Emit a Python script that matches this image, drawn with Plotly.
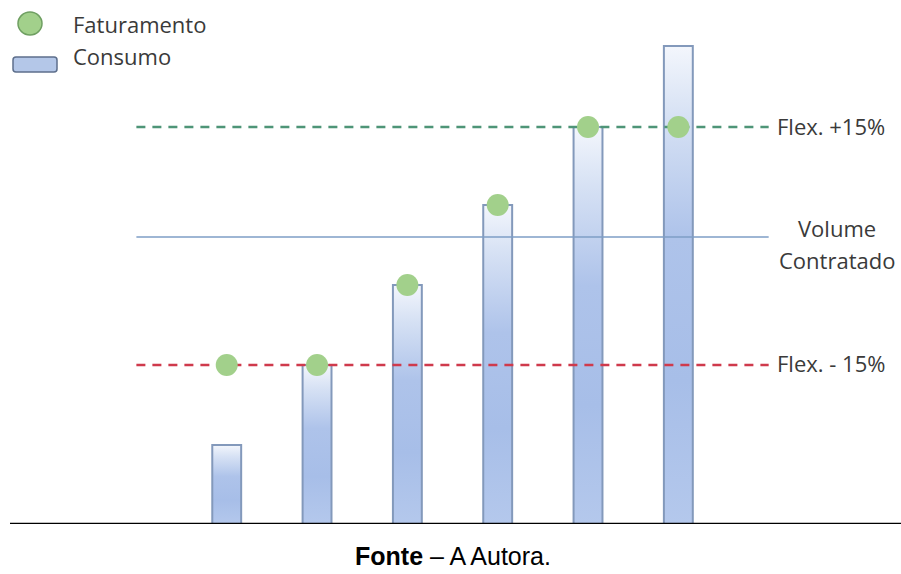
import plotly.graph_objects as go

# Consumption per period and the billed volume for each period
periodos = [1, 2, 3, 4, 5, 6]
consumo = [79, 159, 239, 319, 397, 478]
faturamento = [159, 159, 239, 319, 397, 397]

# Contract reference levels
flex_menos = 159
volume_contratado = 287
flex_mais = 397
linha_x = [0, 7]

W, H = 901, 574
PLOT_H = 524
BAR_HALF = 0.16

fig = go.Figure()

# Consumption bars with a vertical gradient fill
for p, v in zip(periodos, consumo):
    fig.add_trace(go.Scatter(
        x=[p - BAR_HALF, p + BAR_HALF, p + BAR_HALF, p - BAR_HALF, p - BAR_HALF],
        y=[0, 0, v, v, 0],
        mode="lines",
        fill="toself",
        fillgradient=dict(
            type="vertical",
            colorscale=[[0, "#b4c8ec"], [0.3, "#a7bee8"], [0.6, "#aec3ea"],
                        [0.85, "#d6e1f4"], [1, "#f3f6fc"]],
        ),
        line=dict(color="#8399bb", width=2),
        hoverinfo="skip",
        showlegend=False,
    ))

# Reference lines
fig.add_trace(go.Scatter(x=linha_x, y=[flex_mais, flex_mais], mode="lines",
                         line=dict(color="#4e9577", width=2.5, dash="9px,7px"),
                         showlegend=False, hoverinfo="skip"))
fig.add_trace(go.Scatter(x=linha_x, y=[volume_contratado, volume_contratado], mode="lines",
                         line=dict(color="#7e9ec6", width=1.6),
                         showlegend=False, hoverinfo="skip"))
fig.add_trace(go.Scatter(x=linha_x, y=[flex_menos, flex_menos], mode="lines",
                         line=dict(color="#cf3a4c", width=2.5, dash="9px,7px"),
                         showlegend=False, hoverinfo="skip"))

# Billed volume markers
fig.add_trace(go.Scatter(
    x=periodos, y=faturamento, mode="markers",
    marker=dict(size=22, color="#a2d08b", line=dict(width=0)),
    showlegend=False, hoverinfo="skip",
))


def px(xp):
    return xp / W


def py(yp):
    return 1 - yp / PLOT_H


txt = dict(family="'Open Sans', Lato, sans-serif", size=22, color="#3a3a3a")

annotations = [
    dict(x=px(71), y=py(24), text="Faturamento", xanchor="left"),
    dict(x=px(71), y=py(56), text="Consumo", xanchor="left"),
    dict(x=px(775), y=py(126), text="Flex. +15%", xanchor="left"),
    dict(x=px(837), y=py(228), text="Volume", xanchor="center"),
    dict(x=px(837), y=py(260), text="Contratado", xanchor="center"),
    dict(x=px(775), y=py(363), text="Flex. - 15%", xanchor="left"),
]
for a in annotations:
    a.update(xref="paper", yref="paper", yanchor="middle", showarrow=False, font=txt)

annotations.append(dict(
    x=px(453), y=py(556), xref="paper", yref="paper", xanchor="center", yanchor="middle",
    text="<b>Fonte</b> – A Autora.", showarrow=False,
    font=dict(family="'Liberation Sans', Arial, sans-serif", size=25, color="#000000"),
))

shapes = [
    # baseline
    dict(type="line", xref="paper", yref="y", x0=px(10), x1=1, y0=0, y1=0,
         line=dict(color="#000000", width=2.5)),
    # legend icons
    dict(type="circle", xref="paper", yref="paper",
         x0=px(18), x1=px(42), y0=py(12), y1=py(35),
         fillcolor="#a2d08b", line=dict(color="#6f9f62", width=1.5)),
    dict(type="path", xref="paper", yref="paper",
         path=(f"M {px(16)},{py(57)} L {px(54)},{py(57)} Q {px(57)},{py(57)} {px(57)},{py(60)} "
               f"L {px(57)},{py(69)} Q {px(57)},{py(72)} {px(54)},{py(72)} "
               f"L {px(16)},{py(72)} Q {px(13)},{py(72)} {px(13)},{py(69)} "
               f"L {px(13)},{py(60)} Q {px(13)},{py(57)} {px(16)},{py(57)} Z"),
         fillcolor="#b4c7e8", line=dict(color="#5d6f8c", width=1.5)),
]

fig.update_layout(
    width=W, height=H,
    margin=dict(l=0, r=0, t=0, b=H - PLOT_H),
    paper_bgcolor="white", plot_bgcolor="white",
    xaxis=dict(range=[-1.510, 8.465], visible=False, fixedrange=True),
    yaxis=dict(range=[0, PLOT_H], visible=False, fixedrange=True),
    annotations=annotations,
    shapes=shapes,
    showlegend=False,
)

fig.write_html("out.html")
